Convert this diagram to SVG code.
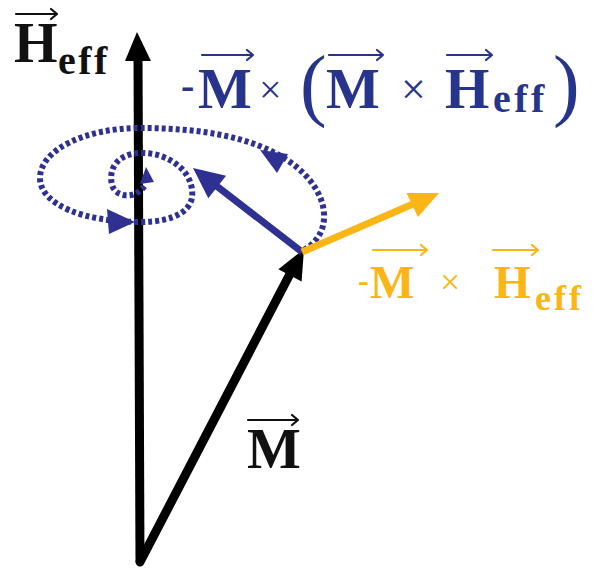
<svg xmlns="http://www.w3.org/2000/svg" width="594" height="572" viewBox="0 0 594 572">
<style>
.t{font-family:"Liberation Serif","Times New Roman",serif;font-weight:bold}
.k{fill:#111}
.b{fill:#27348b}
.y{fill:#fbb515}
.x{font-weight:normal}
.va{fill:none;stroke-width:2.2;stroke-linecap:round;stroke-linejoin:round}
.dot{fill:none;stroke:#2e3192;stroke-width:6;stroke-dasharray:4 3}
</style>
<rect width="594" height="572" fill="#fff"/>
<g id="connectors">
  <g id="axis-Heff">
    <line x1="140" y1="562" x2="138" y2="56" stroke="#000" stroke-width="9"/>
    <polygon points="137,32 125,61 151,61" fill="#000"/>
  </g>
  <g id="vector-M">
    <line x1="140" y1="562" x2="291" y2="272" stroke="#000" stroke-width="9" stroke-linecap="round"/>
    <polygon points="304,249 301.6,281.4 278.4,269.2" fill="#000"/>
  </g>
  <g id="precession-path">
    <path class="dot" d="M304,250 C335,232 330,190 290,162 C250,134 190,128 140,128 C85,128 40,150 40,178 C40,205 85,222 140,222 C175,222 195,210 192,190 C190,168 165,152 140,153 C118,154 108,168 112,185 C116,198 136,200 146,184"/>
    <polygon points="260,150 288,154 277,173" fill="#2e3192"/>
    <polygon points="135,222 107,209 109,234" fill="#2e3192"/>
    <polygon points="146,167 140,184 154,182" fill="#2e3192"/>
  </g>
  <g id="vector-damping">
    <line x1="302" y1="252" x2="214" y2="184" stroke="#2e3192" stroke-width="7"/>
    <polygon points="193,168 226.1,175.7 208.3,198.3" fill="#2e3192"/>
  </g>
  <g id="vector-precession">
    <line x1="302" y1="252" x2="413" y2="204" stroke="#fbb515" stroke-width="7"/>
    <polygon points="439,193 417.9,217 406.5,193" fill="#fbb515"/>
  </g>
</g>
<g id="label-Heff">
  <text class="t k" y="62"><tspan x="14" font-size="56">H</tspan><tspan x="58" y="74" font-size="40" letter-spacing="2.5">eff</tspan></text>
  <path class="va" stroke="#111" d="M16,14 H57 M51,9 L57,14 L51,19"/>
</g>
<g id="label-damping">
  <text class="t b" y="108"><tspan x="181" y="99" font-size="40">-</tspan><tspan x="198" y="108" font-size="57">M</tspan><tspan class="x" x="259" y="103" font-size="40">×</tspan><tspan class="x" x="300" y="111" font-size="80">(</tspan><tspan x="326" y="108" font-size="57">M</tspan><tspan class="x" x="401" y="104" font-size="44">×</tspan><tspan x="445" y="108" font-size="57">H</tspan><tspan x="493" y="112" font-size="40" letter-spacing="3.5">eff</tspan><tspan class="x" x="553" y="111" font-size="80">)</tspan></text>
  <path class="va" stroke="#27348b" d="M202,55 H253 M247,50 L253,55 L247,60 M329,55 H383 M377,50 L383,55 L377,60 M447,55 H492 M486,50 L492,55 L486,60"/>
</g>
<g id="label-precession">
  <text class="t y" y="298"><tspan x="358" y="291" font-size="32">-</tspan><tspan x="370" y="298" font-size="47">M</tspan><tspan class="x" x="440" y="294" font-size="36">×</tspan><tspan x="494" y="298" font-size="47">H</tspan><tspan x="535" y="310" font-size="36" letter-spacing="3">eff</tspan></text>
  <path class="va" stroke="#fbb515" d="M373,250 H427 M421,245 L427,250 L421,255 M493,250 H538 M532,245 L538,250 L532,255"/>
</g>
<g id="label-M">
  <text class="t k" x="247" y="468" font-size="57">M</text>
  <path class="va" stroke="#111" d="M248,420 H298 M292,415 L298,420 L292,425"/>
</g>
</svg>
